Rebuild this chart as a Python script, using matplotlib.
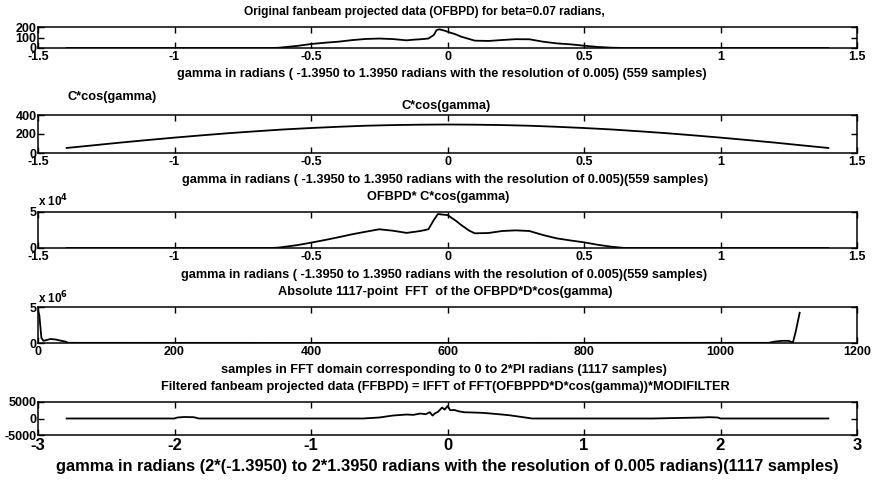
import numpy as np
import matplotlib
matplotlib.use('Agg')
import matplotlib.pyplot as plt

plt.rcParams['font.family'] = ['Liberation Sans', 'DejaVu Sans']
plt.rcParams['font.weight'] = 'bold'
plt.rcParams['axes.unicode_minus'] = False

# panel 1: original fanbeam projected data
gamma1 = [-1.395, -1.2, -1.0, -0.8, -0.65, -0.62, -0.55, -0.5, -0.45, -0.4, -0.35, -0.3,
          -0.25, -0.2, -0.15, -0.12, -0.1, -0.07, -0.05, -0.04, -0.03, -0.01, 0.0, 0.03,
          0.05, 0.08, 0.1, 0.15, 0.2, 0.25, 0.3, 0.35, 0.4, 0.45, 0.5, 0.55, 0.6, 0.65,
          0.8, 1.0, 1.2, 1.395]
ofbpd = [0, 0, 0, 0, 0, 2, 20, 38, 50, 60, 75, 86, 90, 85, 73, 80, 83, 90, 124, 170,
         178, 165, 155, 130, 108, 85, 70, 67, 76, 84, 83, 60, 44, 35, 22, 10, 3, 0,
         0, 0, 0, 0]

# panel 2: C*cos(gamma)
gamma2 = [-1.395, -1.3, -1.2, -1.1, -1.0, -0.9, -0.8, -0.7, -0.6, -0.5, -0.4, -0.3, -0.2,
          -0.1, 0.0, 0.1, 0.2, 0.3, 0.4, 0.5, 0.6, 0.7, 0.8, 0.9, 1.0, 1.1, 1.2, 1.3, 1.395]
ccos = [53, 80, 109, 136, 162, 186, 209, 229, 248, 263, 276, 287, 294, 298, 300,
        298, 294, 287, 276, 263, 248, 229, 209, 186, 162, 136, 109, 80, 53]

# panel 3: OFBPD * C*cos(gamma)
gamma3 = [-1.395, -1.2, -1.0, -0.8, -0.65, -0.62, -0.55, -0.5, -0.45, -0.4, -0.35, -0.3,
          -0.25, -0.2, -0.15, -0.12, -0.1, -0.07, -0.05, -0.035, -0.02, 0.0, 0.03, 0.05,
          0.08, 0.1, 0.15, 0.2, 0.25, 0.3, 0.35, 0.4, 0.45, 0.5, 0.55, 0.6, 0.65, 0.8,
          1.0, 1.2, 1.395]
prod3 = [0, 0, 0, 0, 0, 500, 4000, 7400, 11000, 14900, 19000, 22600, 26000, 24000,
         21000, 22500, 23600, 26000, 39000, 47200, 46500, 45800, 38000, 32000, 24000,
         20400, 20800, 23600, 24500, 23600, 18000, 13400, 10500, 7900, 4500, 1800, 0,
         0, 0, 0, 0]

# panel 4: |FFT| (1117 points)
fft_k = [0, 2, 5, 8, 12, 18, 25, 32, 40, 44, 60, 500, 1070, 1080, 1090, 1100, 1106,
         1110, 1116]
fft_mag = [4.6e6, 3.8e6, 0.7e6, 0.3e6, 0.4e6, 0.55e6, 0.5e6, 0.35e6, 0.2e6, 0.03e6,
           0.02e6, 0.01e6, 0.02e6, 0.2e6, 0.3e6, 0.3e6, 0.05e6, 1.5e6, 4.2e6]

# panel 5: filtered fanbeam projected data
gamma5 = [-2.79, -2.4, -2.0, -1.98, -1.93, -1.86, -1.82, -1.4, -1.0, -0.62, -0.5, -0.4,
          -0.3, -0.25, -0.2, -0.16, -0.13, -0.11, -0.09, -0.07, -0.04, -0.02, 0.0, 0.02,
          0.05, 0.08, 0.12, 0.2, 0.26, 0.32, 0.4, 0.45, 0.57, 0.62, 1.0, 1.5, 1.86,
          1.92, 1.98, 2.0, 2.4, 2.79]
ffbpd = [0, 0, 0, 300, 450, 400, 0, 0, 0, 0, 300, 900, 1200, 1100, 1500, 1300, 1900,
         900, 1600, 2000, 3300, 2700, 3800, 2500, 2600, 2200, 1900, 1800, 1700, 1500,
         1200, 1000, 300, 0, 0, 0, 300, 400, 300, 0, 0, 0]

W, H = 875, 484
fig = plt.figure(figsize=(W / 100, H / 100), dpi=100)


def add_axes(top, bottom):
    return fig.add_axes([38 / W, 1 - bottom / H, 819 / W, (bottom - top) / H])


def style(ax, fs=9):
    ax.tick_params(direction='in', top=True, right=True, length=4, width=1,
                   labelsize=fs, pad=1)
    ax.tick_params(axis='x', pad=2)
    for s in ax.spines.values():
        s.set_linewidth(1.1)
    for lab in ax.get_xticklabels() + ax.get_yticklabels():
        lab.set_fontweight('bold')


def ftext(x, y, s, size=9.2, ha='center'):
    fig.text(x / W, 1 - y / H, s, ha=ha, va='center', fontsize=size, fontweight='bold')


gticks = [-1.5, -1, -0.5, 0, 0.5, 1, 1.5]
glabels = ['-1.5', '-1', '-0.5', '0', '0.5', '1', '1.5']

ax1 = add_axes(27, 48)
ax1.plot(gamma1, ofbpd, color='black', lw=1.3)
ax1.set_xlim(-1.5, 1.5)
ax1.set_ylim(0, 200)
ax1.set_xticks(gticks, glabels)
ax1.set_yticks([0, 100, 200], ['0', '100', '200'])
style(ax1)

ax2 = add_axes(115, 153)
ax2.plot(gamma2, ccos, color='black', lw=1.3)
ax2.set_xlim(-1.5, 1.5)
ax2.set_ylim(0, 400)
ax2.set_xticks(gticks, glabels)
ax2.set_yticks([0, 200, 400], ['0', '200', '400'])
style(ax2)

ax3 = add_axes(212, 248)
ax3.plot(gamma3, prod3, color='black', lw=1.3)
ax3.set_xlim(-1.5, 1.5)
ax3.set_ylim(0, 5e4)
ax3.set_xticks(gticks, glabels)
ax3.set_yticks([0, 5e4], ['0', '5'])
style(ax3)

ax4 = add_axes(307, 343)
ax4.plot(fft_k, fft_mag, color='black', lw=1.3)
ax4.set_xlim(0, 1200)
ax4.set_ylim(0, 5e6)
ax4.set_xticks([0, 200, 400, 600, 800, 1000, 1200])
ax4.set_yticks([0, 5e6], ['0', '5'])
style(ax4)

ax5 = add_axes(402, 435)
ax5.plot(gamma5, ffbpd, color='black', lw=1.3)
ax5.set_xlim(-3, 3)
ax5.set_ylim(-5000, 5000)
ax5.set_xticks([-3, -2, -1, 0, 1, 2, 3], ['-3', '-2', '-1', '0', '1', '2', '3'])
ax5.set_yticks([-5000, 0, 5000], ['-5000', '0', '5000'])
style(ax5)
ax5.tick_params(axis='x', labelsize=12)

ftext(424, 12, 'Original fanbeam projected data (OFBPD) for beta=0.07 radians,', size=8.6)
ftext(442, 74, 'gamma in radians ( -1.3950 to 1.3950 radians with the resolution of 0.005) (559 samples)')
ftext(112, 97, 'C*cos(gamma)')
ftext(446, 106, 'C*cos(gamma)')
ftext(445, 180, 'gamma in radians ( -1.3950 to 1.3950 radians with the resolution of 0.005)(559 samples)')
ftext(438, 197, 'OFBPD* C*cos(gamma)')
ftext(38, 201, r'x 10$^{4}$', size=8.5, ha='left')
ftext(444, 275, 'gamma in radians ( -1.3950 to 1.3950 radians with the resolution of 0.005)(559 samples)')
ftext(445, 292, 'Absolute 1117-point  FFT  of the OFBPD*D*cos(gamma)')
ftext(38, 298, r'x 10$^{6}$', size=8.5, ha='left')
ftext(444, 370, 'samples in FFT domain corresponding to 0 to 2*PI radians (1117 samples)')
ftext(445, 387, 'Filtered fanbeam projected data (FFBPD) = IFFT of FFT(OFBPPD*D*cos(gamma))*MODIFILTER')
ftext(447, 466, 'gamma in radians (2*(-1.3950) to 2*1.3950 radians with the resolution of 0.005 radians)(1117 samples)', size=11.8)

fig.savefig('out.png', dpi=100)
